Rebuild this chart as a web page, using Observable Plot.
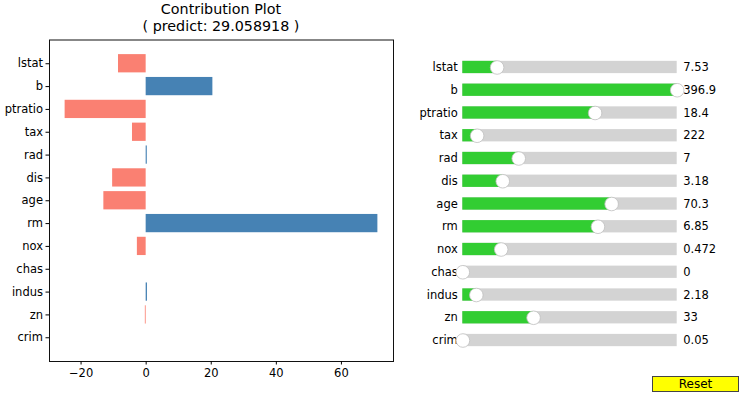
<!DOCTYPE html>
<html>
<head>
<meta charset="utf-8">
<script src="https://cdn.jsdelivr.net/npm/d3@7"></script>
<script src="https://cdn.jsdelivr.net/npm/@observablehq/plot@0.6"></script>
<style>
  html, body { margin: 0; padding: 0; background: #fff; }
  #root { position: relative; width: 740px; height: 394px; overflow: hidden; font-family: "DejaVu Sans", sans-serif; }
  #root svg { position: absolute; }
  .title { position: absolute; left: 49px; width: 344px; text-align: center; font-size: 14.3px; color: #000; white-space: nowrap; line-height: 16px; }
  #reset { position: absolute; left: 652px; top: 376px; width: 85px; height: 14px; background: #ffff00; border: 1px solid #444; font-size: 12px; line-height: 14px; text-align: center; color: #000; }
</style>
</head>
<body>
<div id="root">
  <div class="title" style="top:1px">Contribution Plot</div>
  <div class="title" style="top:18px">( predict: 29.058918 )</div>
  <div id="reset">Reset</div>
</div>
<script>
const features = ["lstat","b","ptratio","tax","rad","dis","age","rm","nox","chas","indus","zn","crim"];
const contributions = [-8.5, 20.5, -24.9, -4.2, 0.35, -10.3, -13.0, 71.2, -2.7, 0, 0.4, -0.25, 0];
const sliderValues = [7.53, 396.9, 18.4, 222, 7, 3.18, 70.3, 6.85, 0.472, 0, 2.18, 33, 0.05];
const sliderMin = [1.73, 0.32, 12.6, 187, 1, 1.13, 2.9, 3.56, 0.385, 0, 0.46, 0, 0.006];
const sliderMax = [37.97, 396.9, 22.0, 711, 24, 12.13, 100, 8.78, 0.871, 1, 27.74, 100, 88.98];
const valueLabels = ["7.53","396.9","18.4","222","7","3.18","70.3","6.85","0.472","0","2.18","33","0.05"];
const xTicks = [-20, 0, 20, 40, 60];

const contribData = features.map((f, i) => ({feature: f, value: contributions[i]}));
const sliderData = features.map((f, i) => ({
  feature: f,
  frac: (sliderValues[i] - sliderMin[i]) / (sliderMax[i] - sliderMin[i]),
  label: valueLabels[i]
}));

const root = document.getElementById("root");
const font = {fontFamily: "DejaVu Sans", fontSize: "11.5px", background: "transparent", color: "#000"};

const left = Plot.plot({
  width: 400, height: 394,
  marginLeft: 49, marginRight: 7, marginTop: 39.5, marginBottom: 33,
  style: font,
  x: {domain: [-29.7, 76.0]},
  y: {domain: features, paddingInner: 0.2, paddingOuter: 0.64, round: false},
  marks: [
    Plot.barX(contribData, {
      y: "feature", x1: 0, x2: "value",
      fill: d => d.value >= 0 ? "#4682b4" : "#fa8072"
    }),
    Plot.frame({stroke: "#111", strokeWidth: 1}),
    Plot.axisX({ticks: xTicks, tickSize: 3.5, tickPadding: 3.5, label: null}),
    Plot.axisY({tickSize: 3.5, tickPadding: 3, label: null})
  ]
});
left.style.left = "0px"; left.style.top = "0px";
root.appendChild(left);

const right = Plot.plot({
  width: 340, height: 394,
  marginLeft: 62.3, marginRight: 63.3, marginTop: 55.6, marginBottom: 42.6,
  style: font,
  x: {domain: [0, 1], axis: null},
  y: {domain: features, paddingInner: 0.46, paddingOuter: 0.23, round: false},
  marks: [
    Plot.barX(sliderData, {y: "feature", x1: 0, x2: 1, fill: "#d3d3d3"}),
    Plot.barX(sliderData, {y: "feature", x1: 0, x2: "frac", fill: "#32cd32"}),
    Plot.axisY({tickSize: 0, tickPadding: 5, label: null}),
    Plot.text(sliderData, {y: "feature", x: 1, dx: 6, text: "label", textAnchor: "start", fill: "#000"}),
    Plot.dot(sliderData, {y: "feature", x: "frac", r: 6.8, fill: "#fff", stroke: "#bfbfbf", strokeWidth: 0.8})
  ]
});
right.style.left = "400px"; right.style.top = "0px";
root.appendChild(right);
</script>
</body>
</html>
